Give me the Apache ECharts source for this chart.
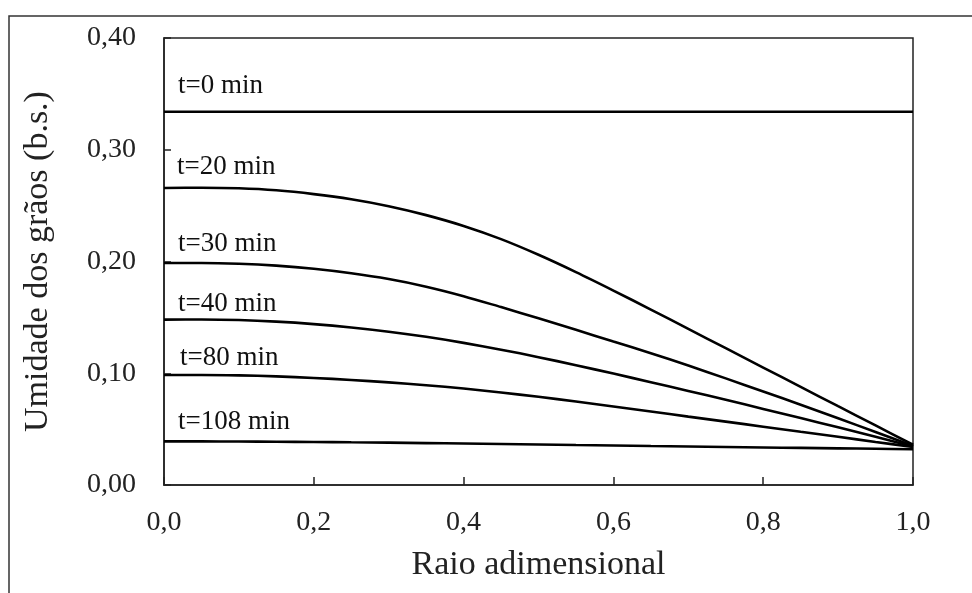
<!DOCTYPE html>
<html>
<head>
<meta charset="utf-8">
<script src="https://cdn.jsdelivr.net/npm/echarts@6/dist/echarts.min.js"></script>
<style>html,body{margin:0;padding:0;background:#fff}#c{width:972px;height:593px}</style>
</head>
<body>
<div id="c"></div>
<script>
// Radius positions (dimensionless)
const raio = [0, 0.05, 0.1, 0.15, 0.2, 0.25, 0.3, 0.35, 0.4, 0.45, 0.5, 0.55, 0.6, 0.65, 0.7, 0.75, 0.8, 0.85, 0.9, 0.95, 1.0];
// Moisture (dry basis) at each time
const t0   = [0.334, 0.334, 0.334, 0.334, 0.334, 0.334, 0.334, 0.334, 0.334, 0.334, 0.334, 0.334, 0.334, 0.334, 0.334, 0.334, 0.334, 0.334, 0.334, 0.334, 0.334];
const t20  = [0.2658, 0.2660, 0.2655, 0.2637, 0.2603, 0.2557, 0.2495, 0.2415, 0.2318, 0.2200, 0.2060, 0.1905, 0.1740, 0.1570, 0.1397, 0.1224, 0.1051, 0.0878, 0.0705, 0.0533, 0.0360];
const t30  = [0.1987, 0.1987, 0.1980, 0.1963, 0.1935, 0.1895, 0.1843, 0.1775, 0.1690, 0.1592, 0.1492, 0.1389, 0.1284, 0.1179, 0.1069, 0.0954, 0.0837, 0.0718, 0.0597, 0.0474, 0.0350];
const t40  = [0.1480, 0.1481, 0.1476, 0.1462, 0.1440, 0.1410, 0.1372, 0.1326, 0.1272, 0.1211, 0.1144, 0.1072, 0.0997, 0.0920, 0.0842, 0.0762, 0.0681, 0.0599, 0.0516, 0.0432, 0.0345];
const t80  = [0.0984, 0.0985, 0.0981, 0.0972, 0.0958, 0.0940, 0.0918, 0.0893, 0.0863, 0.0828, 0.0789, 0.0747, 0.0703, 0.0658, 0.0612, 0.0567, 0.0522, 0.0476, 0.0431, 0.0385, 0.0340];
const t108 = [0.0390, 0.0390, 0.0389, 0.0387, 0.0385, 0.0382, 0.0379, 0.0375, 0.0371, 0.0367, 0.0363, 0.0358, 0.0354, 0.0349, 0.0345, 0.0340, 0.0336, 0.0332, 0.0328, 0.0324, 0.0320];
const seriesNames = ['t=0 min', 't=20 min', 't=30 min', 't=40 min', 't=80 min', 't=108 min'];

const allSeries = [t0, t20, t30, t40, t80, t108];
const font = '"Liberation Serif", "Times New Roman", serif';

const chart = echarts.init(document.getElementById('c'), null, {renderer: 'canvas'});
const labelPos = [[178, 86], [177, 167], [178, 244], [178, 304], [180, 358], [178, 422]];

chart.setOption({
  animation: false,
  backgroundColor: '#fff',
  grid: {left: 164, right: 59, top: 38, bottom: 108, show: true, borderColor: '#222', borderWidth: 1.5, backgroundColor: 'transparent'},
  xAxis: {
    type: 'value', min: 0, max: 1, interval: 0.2,
    name: 'Raio adimensional', nameLocation: 'middle', nameGap: 63,
    nameTextStyle: {fontFamily: font, fontSize: 34, color: '#222'},
    axisLine: {show: true, lineStyle: {color: '#222', width: 1.5}},
    axisTick: {show: true, inside: true, length: 8, lineStyle: {color: '#222', width: 1.5}},
    axisLabel: {margin: 24, fontFamily: font, fontSize: 28, color: '#222',
      formatter: v => v.toFixed(1).replace('.', ',')},
    splitLine: {show: false}
  },
  yAxis: {
    type: 'value', min: 0, max: 0.4, interval: 0.1,
    name: 'Umidade dos grãos (b.s.)', nameLocation: 'middle', nameGap: 109, nameRotate: 90,
    nameTextStyle: {fontFamily: font, fontSize: 34, color: '#222'},
    axisLine: {show: true, lineStyle: {color: '#222', width: 1.5}},
    axisTick: {show: true, inside: true, length: 7, lineStyle: {color: '#222', width: 1.5}},
    axisLabel: {margin: 28, fontFamily: font, fontSize: 28, color: '#222',
      formatter: v => v.toFixed(2).replace('.', ',')},
    splitLine: {show: false}
  },
  series: allSeries.map((arr, i) => ({
    name: seriesNames[i],
    type: 'line',
    smooth: 0.3,
    symbol: 'none',
    lineStyle: {color: '#000', width: 2.6},
    data: raio.map((r, j) => [r, arr[j]])
  })),
  graphic: [
    {type: 'rect', shape: {x: 9, y: 16, width: 1100, height: 800}, style: {fill: 'none', stroke: '#333', lineWidth: 1.5}, silent: true, z: -10}
  ].concat(seriesNames.map((n, i) => ({
    type: 'text', x: labelPos[i][0], y: labelPos[i][1],
    style: {text: n, font: '27px ' + font, fill: '#111', verticalAlign: 'middle'}
  })))
});
</script>
</body>
</html>
